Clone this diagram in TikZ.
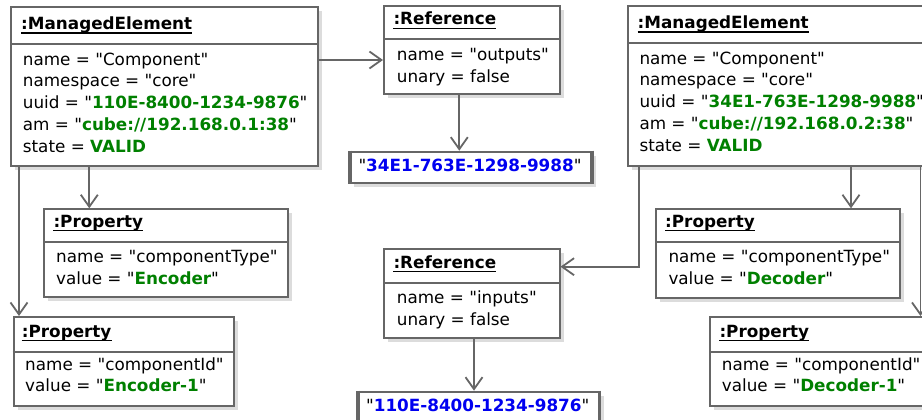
\documentclass[tikz,border=0pt]{standalone}
\usepackage{fontspec}
\setmainfont{DejaVu Sans}[Ligatures=TeXOff]
\usetikzlibrary{arrows.meta,shadows}
\definecolor{bord}{RGB}{102,102,102}
\definecolor{shade}{RGB}{220,220,220}
\definecolor{valgreen}{RGB}{0,128,0}
\definecolor{valblue}{RGB}{0,0,240}
\newcommand{\valg}[1]{\textbf{\textcolor{valgreen}{#1}}}
\newcommand{\valb}[1]{\textbf{\textcolor{valblue}{#1}}}
\newcommand{\basefnt}{\fontsize{16.8}{21.75}\selectfont}
\tikzset{
  obj/.style={draw=bord, line width=1.8pt, fill=white, anchor=north west, inner sep=0pt,
    drop shadow={shadow xshift=4pt, shadow yshift=-4pt, fill=shade, opacity=1}},
  sepline/.style={draw=bord, line width=1.8pt},
  thickedge/.style={draw=bord, line width=3.8pt},
  ttl/.style={anchor=base west, inner sep=0pt, font=\basefnt\bfseries},
  ul/.style={draw=black, line width=1.4pt},
  txt/.style={anchor=base west, inner sep=0pt, font=\basefnt},
  ctxt/.style={anchor=base, inner sep=0pt, font=\basefnt},
  conn/.style={draw=bord, line width=1.8pt, -{Straight Barb[length=12pt,width=17pt]}},
}
\begin{document}
\begin{tikzpicture}[x=1pt, y=-1pt]
\clip (0,0) rectangle (922,420);
\fill[white] (0,0) rectangle (922,420);

% ---------- A: left ManagedElement
\node[obj, minimum width=307pt, minimum height=159pt] (A) at (10,6) {};
\draw[sepline] ([yshift=-38pt]A.north west) -- ([yshift=-38pt]A.north east);
\node[ttl] (At) at (21,29.5) {:ManagedElement};
\draw[ul] ([yshift=-3.5pt]At.base west) -- ([yshift=-3.5pt]At.base east);
\node[txt] (A1) at (22.7,65.3) {name = "Component"};
\node[txt] (A2) at (22.7,87) {namespace = "core"};
\node[txt] (A3) at (22.7,108.7) {uuid = "\valg{110E-8400-1234-9876}"};
\node[txt] (A4) at (22.7,130.4) {am = "\valg{cube://192.168.0.1:38}"};
\node[txt] (A5) at (22.7,152.1) {state = \valg{VALID}};

% ---------- B: Reference outputs
\node[obj, minimum width=176pt, minimum height=88.3pt] (B) at (383,5) {};
\draw[sepline] ([yshift=-34.3pt]B.north west) -- ([yshift=-34.3pt]B.north east);
\node[ttl] (Bt) at (393.3,24.8) {:Reference};
\draw[ul] ([yshift=-3.5pt]Bt.base west) -- ([yshift=-3.5pt]Bt.base east);
\node[txt] (B1) at (396.7,60.4) {name = "outputs"};
\node[txt] (B2) at (396.7,82.1) {unary = false};

% ---------- C: value 34E1
\node[obj, minimum width=242pt, minimum height=31pt] (C) at (349,150.7) {};
\draw[thickedge] ([xshift=1pt]C.north west) -- ([xshift=1pt]C.south west);
\draw[thickedge] ([xshift=-1pt]C.north east) -- ([xshift=-1pt]C.south east);
\node[ctxt] (Ct) at (470,171.7) {"\valb{34E1-763E-1298-9988}"};

% ---------- D: right ManagedElement
\node[obj, minimum width=320pt, minimum height=160pt] (D) at (627.3,5) {};
\draw[sepline] ([yshift=-38pt]D.north west) -- ([yshift=-38pt]D.north east);
\node[ttl] (Dt) at (637.5,28.5) {:ManagedElement};
\draw[ul] ([yshift=-3.5pt]Dt.base west) -- ([yshift=-3.5pt]Dt.base east);
\node[txt] (D1) at (639.3,64.3) {name = "Component"};
\node[txt] (D2) at (639.3,86) {namespace = "core"};
\node[txt] (D3) at (639.3,107.7) {uuid = "\valg{34E1-763E-1298-9988}"};
\node[txt] (D4) at (639.3,129.4) {am = "\valg{cube://192.168.0.2:38}"};
\node[txt] (D5) at (639.3,151.1) {state = \valg{VALID}};

% ---------- E: Property componentType (left)
\node[obj, minimum width=244pt, minimum height=88pt] (E) at (43.3,208.3) {};
\draw[sepline] ([yshift=-33.4pt]E.north west) -- ([yshift=-33.4pt]E.north east);
\node[ttl] (Et) at (53.3,227.2) {:Property};
\draw[ul] ([yshift=-3.5pt]Et.base west) -- ([yshift=-3.5pt]Et.base east);
\node[txt] (E1) at (56,262.8) {name = "componentType"};
\node[txt] (E2) at (56,284.5) {value = "\valg{Encoder}"};

% ---------- F: Property componentId (left)
\node[obj, minimum width=220pt, minimum height=89pt] (F) at (12.7,316) {};
\draw[sepline] ([yshift=-35.7pt]F.north west) -- ([yshift=-35.7pt]F.north east);
\node[ttl] (Ft) at (21.7,337.2) {:Property};
\draw[ul] ([yshift=-3.5pt]Ft.base west) -- ([yshift=-3.5pt]Ft.base east);
\node[txt] (F1) at (25,370) {name = "componentId"};
\node[txt] (F2) at (25,391.8) {value = "\valg{Encoder-1}"};

% ---------- G: Reference inputs
\node[obj, minimum width=175.4pt, minimum height=88.4pt] (G) at (383.3,248.3) {};
\draw[sepline] ([yshift=-34.4pt]G.north west) -- ([yshift=-34.4pt]G.north east);
\node[ttl] (Gt) at (393.3,268.2) {:Reference};
\draw[ul] ([yshift=-3.5pt]Gt.base west) -- ([yshift=-3.5pt]Gt.base east);
\node[txt] (G1) at (396.7,303.8) {name = "inputs"};
\node[txt] (G2) at (396.7,325.5) {unary = false};

% ---------- H: value 110E
\node[obj, minimum width=242pt, minimum height=31pt] (H) at (356.7,390.7) {};
\draw[thickedge] ([xshift=1pt]H.north west) -- ([xshift=1pt]H.south west);
\draw[thickedge] ([xshift=-1pt]H.north east) -- ([xshift=-1pt]H.south east);
\node[ctxt] (Ht) at (477.7,411.7) {"\valb{110E-8400-1234-9876}"};

% ---------- I: Property componentType (right)
\node[obj, minimum width=244.3pt, minimum height=88.4pt] (I) at (655,208.3) {};
\draw[sepline] ([yshift=-33.4pt]I.north west) -- ([yshift=-33.4pt]I.north east);
\node[ttl] (It) at (665,227.2) {:Property};
\draw[ul] ([yshift=-3.5pt]It.base west) -- ([yshift=-3.5pt]It.base east);
\node[txt] (I1) at (668.3,262.8) {name = "componentType"};
\node[txt] (I2) at (668.3,284.5) {value = "\valg{Decoder}"};

% ---------- J: Property componentId (right)
\node[obj, minimum width=240pt, minimum height=89pt] (J) at (709.3,316) {};
\draw[sepline] ([yshift=-35.7pt]J.north west) -- ([yshift=-35.7pt]J.north east);
\node[ttl] (Jt) at (719.3,337.2) {:Property};
\draw[ul] ([yshift=-3.5pt]Jt.base west) -- ([yshift=-3.5pt]Jt.base east);
\node[txt] (J1) at (721.7,370) {name = "componentId"};
\node[txt] (J2) at (721.7,391.8) {value = "\valg{Decoder-1}"};

% ---------- connectors
\coordinate (a2b) at ([yshift=-54pt]A.north east);
\draw[conn] (a2b) -- (a2b -| B.west);
\coordinate (b2c) at ([xshift=76.3pt]B.south west);
\draw[conn] (b2c) -- (b2c |- C.north);
\coordinate (a2e) at ([xshift=79.3pt]A.south west);
\draw[conn] (a2e) -- (a2e |- E.north);
\coordinate (a2f) at ([xshift=9pt]A.south west);
\draw[conn] (a2f) -- (a2f |- F.north);
\coordinate (d2g) at ([xshift=12pt]D.south west);
\draw[conn] (d2g) |- ([yshift=-18.4pt]G.north east);
\coordinate (g2h) at ([xshift=90.7pt]G.south west);
\draw[conn] (g2h) -- (g2h |- H.north);
\coordinate (d2i) at ([xshift=223.7pt]D.south west);
\draw[conn] (d2i) -- (d2i |- I.north);
\coordinate (d2j) at ([xshift=293.2pt]D.south west);
\draw[conn] (d2j) -- (d2j |- J.north);
\end{tikzpicture}
\end{document}
